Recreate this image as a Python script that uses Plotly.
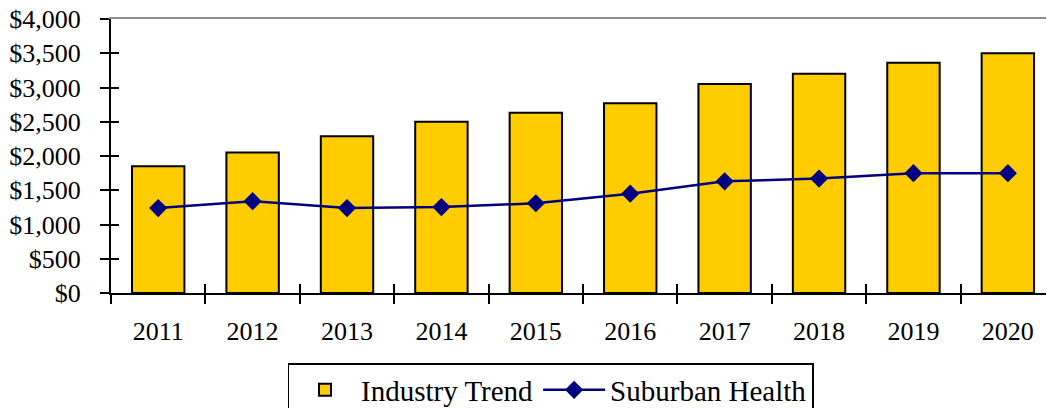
import plotly.graph_objects as go

years = ["2011", "2012", "2013", "2014", "2015", "2016", "2017", "2018", "2019", "2020"]
industry_trend = [1850, 2050, 2290, 2500, 2630, 2770, 3050, 3200, 3360, 3500]
suburban_health = [1240, 1340, 1240, 1255, 1310, 1450, 1630, 1670, 1750, 1750]
y_ticks = [0, 500, 1000, 1500, 2000, 2500, 3000, 3500, 4000]
y_tick_text = ["$0", "$500", "$1,000", "$1,500", "$2,000", "$2,500", "$3,000", "$3,500", "$4,000"]

FONT = "Liberation Serif, Times New Roman, serif"
n = len(years)
xr = [-0.5, n - 0.596]

fig = go.Figure()
fig.add_trace(go.Bar(
    x=years, y=industry_trend, name="Industry Trend",
    marker=dict(color="#FFCC00", line=dict(color="black", width=2)),
    width=0.555,
))
fig.add_trace(go.Scatter(
    x=years, y=suburban_health, name="Suburban Health", mode="lines+markers",
    line=dict(color="#000080", width=2.5),
    marker=dict(symbol="diamond", size=14, color="#000080"),
))
# empty helper traces so the overlay axes (crossing ticks, top border) are drawn
fig.add_trace(go.Scatter(x=[], y=[], xaxis="x", yaxis="y2", showlegend=False, hoverinfo="skip"))
fig.add_trace(go.Scatter(x=[], y=[], xaxis="x2", yaxis="y", showlegend=False, hoverinfo="skip"))
fig.add_trace(go.Scatter(x=[], y=[], xaxis="x3", yaxis="y", showlegend=False, hoverinfo="skip"))

fig.update_layout(
    width=1047, height=408,
    margin=dict(l=111, r=1, t=19, b=115, autoexpand=False),
    paper_bgcolor="white", plot_bgcolor="white",
    font=dict(family=FONT, size=26, color="black"),
    showlegend=True,
    legend=dict(
        orientation="h", xref="container", yref="container",
        x=0.5258, xanchor="center", y=(408 - 363) / 408, yanchor="top",
        bordercolor="black", borderwidth=1.5, font=dict(size=29),
        traceorder="normal", itemwidth=62, tracegroupgap=0,
    ),
    xaxis=dict(
        type="category", range=xr, tickson="boundaries", automargin=False,
        ticks="outside", ticklen=9, tickwidth=2, tickcolor="black",
        showline=True, linecolor="black", linewidth=2,
        showgrid=False, zeroline=False, ticklabelstandoff=14,
    ),
    yaxis=dict(
        range=[0, 4000], tickvals=y_ticks, ticktext=y_tick_text, automargin=False,
        ticks="outside", ticklen=9, tickwidth=2, tickcolor="black",
        showline=True, linecolor="black", linewidth=2,
        showgrid=False, zeroline=False, ticklabelstandoff=14,
    ),
    yaxis2=dict(
        overlaying="y", range=[0, 4000], tickvals=y_ticks, automargin=False,
        ticks="inside", ticklen=8, tickwidth=2, tickcolor="black",
        showticklabels=False, showline=False, showgrid=False, zeroline=False,
        anchor="x", side="left",
    ),
    xaxis2=dict(
        overlaying="x", type="linear", range=xr, automargin=False,
        tickvals=[i - 0.5 for i in range(n + 1)],
        ticks="inside", ticklen=9, tickwidth=2, tickcolor="black",
        showticklabels=False, showline=False, showgrid=False, zeroline=False,
        anchor="y", side="bottom",
    ),
    xaxis3=dict(
        overlaying="x", type="linear", range=xr, side="top", anchor="y",
        automargin=False,
        showline=True, linecolor="#8c8c8c", linewidth=2,
        ticks="", showticklabels=False, showgrid=False, zeroline=False,
    ),
)

fig.write_html(
    "out.html",
    config={"displayModeBar": False},
    post_script="document.body.style.margin='0';document.body.style.overflow='hidden';",
)
